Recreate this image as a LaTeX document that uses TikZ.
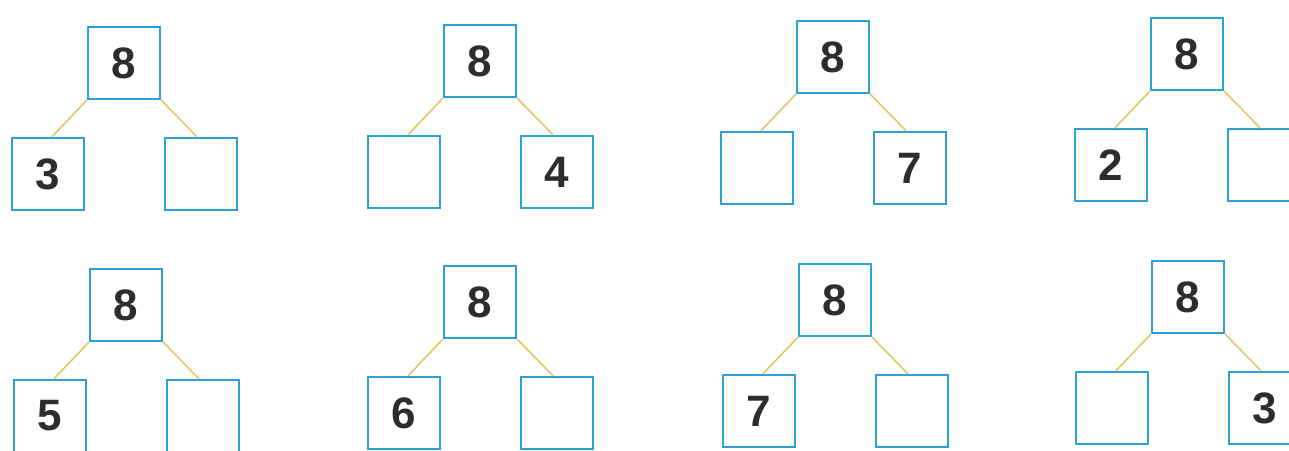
\documentclass[tikz,border=0pt]{standalone}
\usepackage{fontspec}
\setmainfont{Liberation Sans}
\usetikzlibrary{calc}
\definecolor{boxblue}{RGB}{45,160,215}
\definecolor{stickyellow}{RGB}{228,198,95}
\definecolor{digitgrey}{RGB}{45,45,45}
\tikzset{
  numbox/.style={
    draw = boxblue,
    line width = 2.4pt,
    fill = white,
    inner sep = 0pt,
    minimum size = 72pt,
    text = digitgrey,
    font = \fontsize{44}{44}\selectfont\bfseries
  },
  joinline/.style={
    draw = stickyellow,
    line width = 1.6pt
  },
  every picture/.style = {
    x = 1pt,
    y = -1pt
  }
}

\begin{document}
\begin{tikzpicture}
            \useasboundingbox (0,0) rectangle (1289,450);
            \foreach \i/\x/\y/\a/\b in {1/124/63/3/,2/480/61//4,3/833/57//7,4/1187/54/2/,
                                         5/126/305/5/,6/480/302/6/,7/835/300/7/,8/1188/297//3}{
                    \node[numbox] (t\i) at (\x,\y) {8};
                    \node[numbox] (l\i) at ($(t\i.center)+(-76,111)$) {\a};
                    \node[numbox] (r\i) at ($(t\i.center)+(77,111)$) {\b};
                    \draw[joinline] (t\i.south west) -- ($(l\i.north)+(4,0)$);
                    \draw[joinline] (t\i.south east) -- ($(r\i.north)+(-4,0)$);
                }
        \end{tikzpicture}
\end{document}
